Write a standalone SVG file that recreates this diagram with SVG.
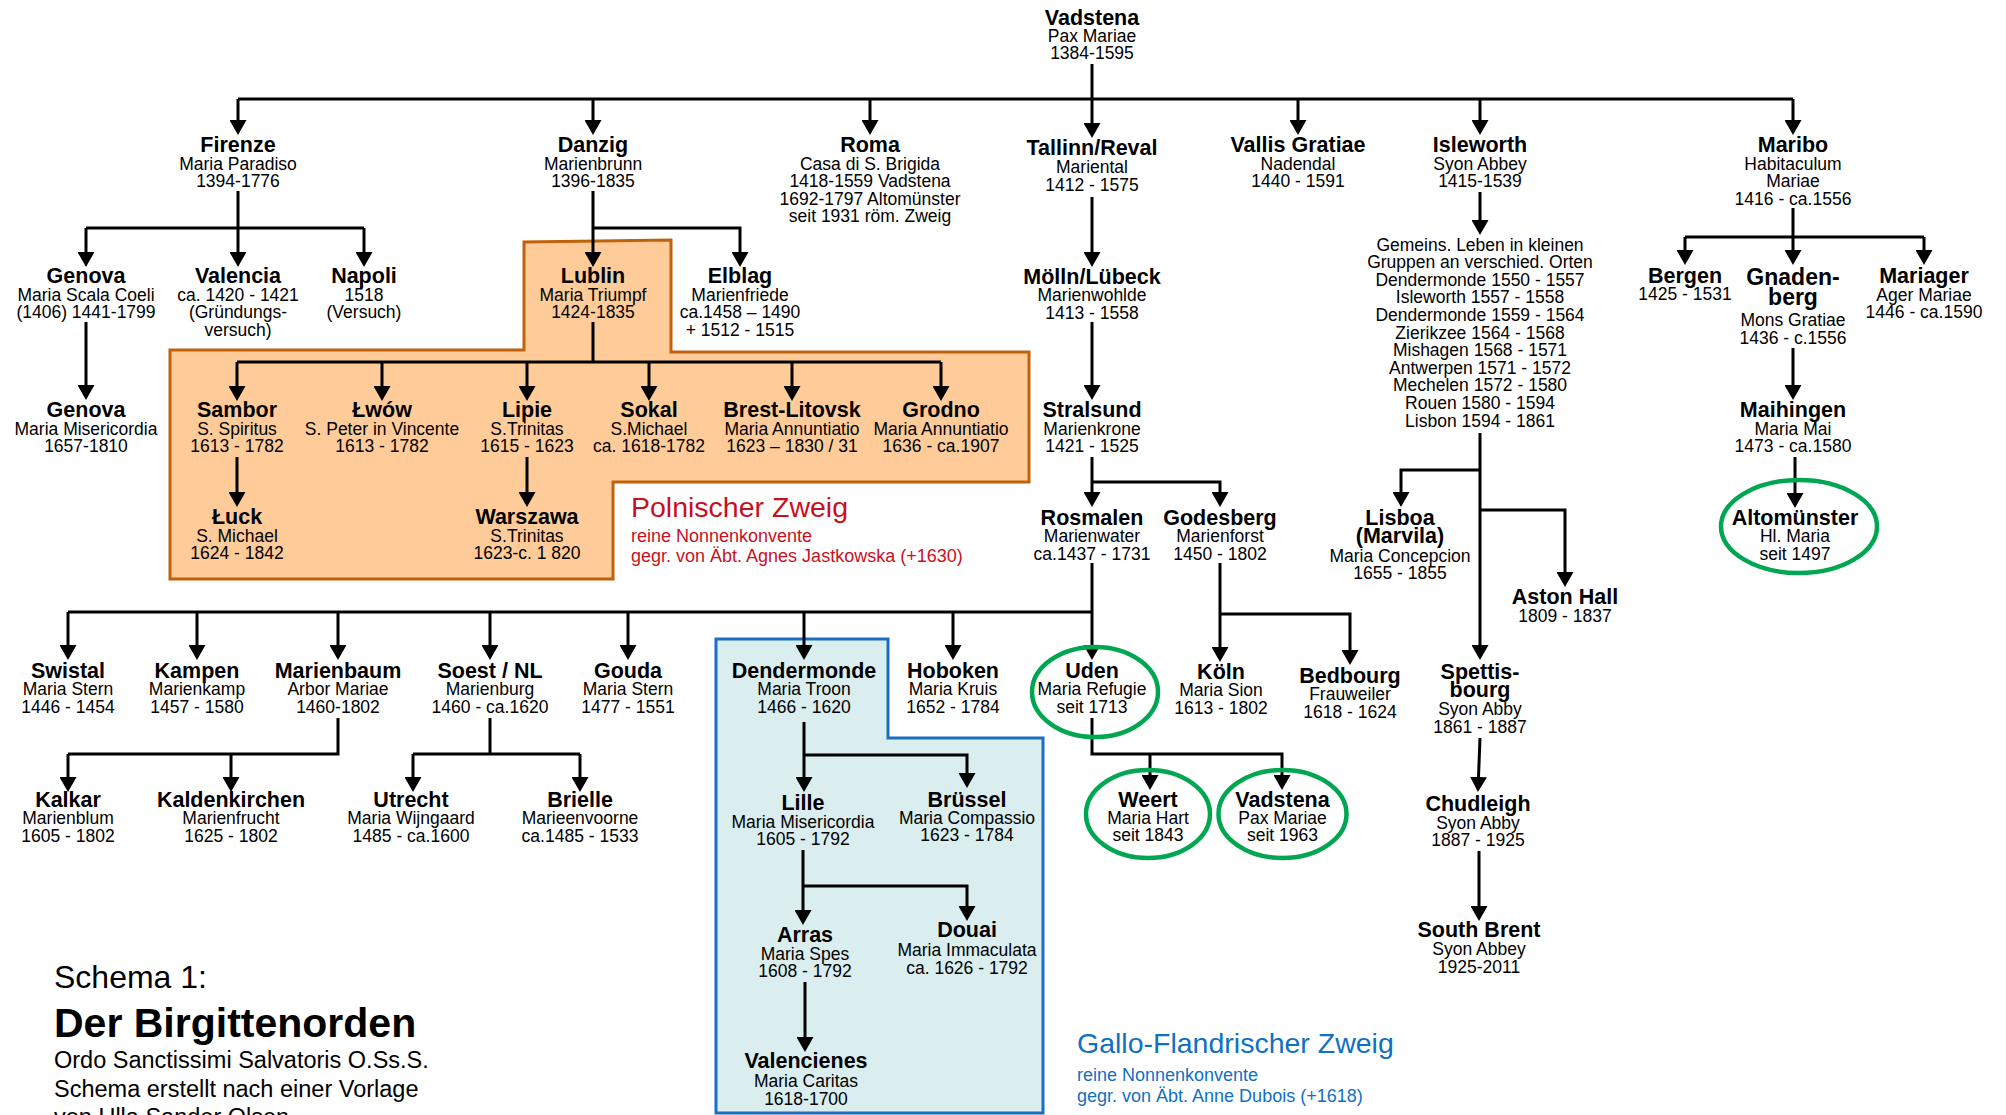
<svg xmlns="http://www.w3.org/2000/svg" width="2006" height="1115" viewBox="0 0 2006 1115">
<style>
text{font-family:"Liberation Sans",Arial,Helvetica,sans-serif;text-anchor:middle;fill:#000}
.t{font-size:21.5px;font-weight:bold}
.s{font-size:17.5px}
.c{fill:none;stroke:#000;stroke-width:3}
.a{marker-end:url(#ah)}
.ring{fill:none;stroke:#00A651;stroke-width:4.5}
.lab{text-anchor:start}
.red{fill:#C8101E}
.blue{fill:#1070C4}
.big{font-size:28.5px}
.mid{font-size:18px}
.cap{text-anchor:start;font-size:23.5px}
</style>
<defs>
<marker id="ah" viewBox="0 -8.5 15 17" refX="0" refY="0" markerWidth="15" markerHeight="17" markerUnits="userSpaceOnUse" orient="auto">
<path d="M0,-8.5 L15,0 L0,8.5 Z" fill="#000"/>
</marker>
</defs>
<rect width="2006" height="1115" fill="#fff"/>

<g id="branches">
<polygon id="polnisch-box" points="170,350 524,350 524,242 671,240 671,352 1029,352 1029,482 613,482 613,579 170,579" fill="#FFCC99" stroke="#C0620C" stroke-width="3"/>
<polygon id="gallo-box" points="716,639 888,639 888,738 1043,738 1043,1113 716,1113" fill="#DAEDEF" stroke="#1A6FC2" stroke-width="3"/>
</g>

<g id="connectors">
<path class="c" d="M238,99 H1793"/>
<path class="c a" d="M1092,64 V123"/>
<path class="c a" d="M238,99 V120"/>
<path class="c a" d="M593,99 V120"/>
<path class="c a" d="M870,99 V120"/>
<path class="c a" d="M1298,99 V120"/>
<path class="c a" d="M1480,99 V120"/>
<path class="c a" d="M1793,99 V120"/>

<path class="c" d="M86,228 H364"/>
<path class="c a" d="M238,191 V252"/>
<path class="c a" d="M86,228 V252"/>
<path class="c a" d="M364,228 V252"/>
<path class="c a" d="M86,322 V385"/>

<path class="c a" d="M593,191 V252"/>
<path class="c a" d="M593,228 H740 V252"/>

<path class="c" d="M593,322 V362 M237,362 H941"/>
<path class="c a" d="M237,362 V386"/>
<path class="c a" d="M382,362 V386"/>
<path class="c a" d="M527,362 V386"/>
<path class="c a" d="M649,362 V386"/>
<path class="c a" d="M792,362 V386"/>
<path class="c a" d="M941,362 V386"/>
<path class="c a" d="M237,457 V492"/>
<path class="c a" d="M527,457 V492"/>

<path class="c a" d="M1092,197 V252"/>
<path class="c a" d="M1092,322 V385"/>
<path class="c a" d="M1092,457 V492"/>
<path class="c a" d="M1092,482 H1220 V492"/>

<path class="c" d="M68,612 H1092"/>
<path class="c a" d="M1092,563 V645"/>
<path class="c a" d="M68,612 V645"/>
<path class="c a" d="M197,612 V645"/>
<path class="c a" d="M338,612 V645"/>
<path class="c a" d="M490,612 V645"/>
<path class="c a" d="M628,612 V645"/>
<path class="c a" d="M804,612 V645"/>
<path class="c a" d="M953,612 V645"/>

<path class="c a" d="M1220,563 V647"/>
<path class="c a" d="M1220,614 H1350 V650"/>

<path class="c" d="M338,718 V754 H68"/>
<path class="c a" d="M68,754 V777"/>
<path class="c a" d="M231,754 V777"/>
<path class="c" d="M490,718 V754 M413,754 H580"/>
<path class="c a" d="M413,754 V777"/>
<path class="c a" d="M580,754 V777"/>

<path class="c a" d="M804,722 V777"/>
<path class="c a" d="M804,755 H967 V773"/>
<path class="c a" d="M803,850 V910"/>
<path class="c a" d="M803,886 H967 V906"/>
<path class="c a" d="M805,982 V1037"/>

<path class="c a" d="M1092,718 V754 H1282 V775"/>
<path class="c a" d="M1150,754 V775"/>

<path class="c a" d="M1480,192 V220"/>
<path class="c a" d="M1480,433 V645"/>
<path class="c a" d="M1480,470 H1401 V492"/>
<path class="c a" d="M1480,510 H1565 V572"/>
<path class="c a" d="M1480,738 L1478.5,777"/>
<path class="c a" d="M1479,851 V906"/>

<path class="c" d="M1685,237 H1924"/>
<path class="c a" d="M1793,208 V250"/>
<path class="c a" d="M1685,237 V250"/>
<path class="c a" d="M1924,237 V250"/>
<path class="c a" d="M1793,348 V385"/>
<path class="c a" d="M1795,457 V493"/>
</g>

<g id="rings">
<ellipse class="ring" cx="1095" cy="692" rx="63" ry="45"/>
<ellipse class="ring" cx="1148" cy="814" rx="62" ry="44"/>
<ellipse class="ring" cx="1282.5" cy="814" rx="64" ry="44"/>
<ellipse class="ring" cx="1799" cy="526.5" rx="78" ry="46.5"/>
</g>

<g id="n-vadstena"><text class="t" x="1092" y="25">Vadstena</text><text class="s" x="1092" y="42">Pax Mariae</text><text class="s" x="1092" y="59">1384-1595</text></g>
<g id="n-firenze"><text class="t" x="238" y="152">Firenze</text><text class="s" x="238" y="170">Maria Paradiso</text><text class="s" x="238" y="187">1394-1776</text></g>
<g id="n-danzig"><text class="t" x="593" y="152">Danzig</text><text class="s" x="593" y="170">Marienbrunn</text><text class="s" x="593" y="187">1396-1835</text></g>
<g id="n-roma"><text class="t" x="870" y="152">Roma</text><text class="s" x="870" y="170">Casa di S. Brigida</text><text class="s" x="870" y="187">1418-1559 Vadstena</text><text class="s" x="870" y="205">1692-1797 Altomünster</text><text class="s" x="870" y="222">seit 1931 röm. Zweig</text></g>
<g id="n-tallinn"><text class="t" x="1092" y="155">Tallinn/Reval</text><text class="s" x="1092" y="173">Mariental</text><text class="s" x="1092" y="190.5">1412 - 1575</text></g>
<g id="n-vallis"><text class="t" x="1298" y="152">Vallis Gratiae</text><text class="s" x="1298" y="170">Nadendal</text><text class="s" x="1298" y="187">1440 - 1591</text></g>
<g id="n-isleworth"><text class="t" x="1480" y="152">Isleworth</text><text class="s" x="1480" y="170">Syon Abbey</text><text class="s" x="1480" y="187">1415-1539</text></g>
<g id="n-maribo"><text class="t" x="1793" y="152">Maribo</text><text class="s" x="1793" y="170">Habitaculum</text><text class="s" x="1793" y="187">Mariae</text><text class="s" x="1793" y="204.5">1416 - ca.1556</text></g>

<g id="n-genova1"><text class="t" x="86" y="283">Genova</text><text class="s" x="86" y="300.5">Maria Scala Coeli</text><text class="s" x="86" y="318">(1406) 1441-1799</text></g>
<g id="n-valencia"><text class="t" x="238" y="283">Valencia</text><text class="s" x="238" y="300.5">ca. 1420 - 1421</text><text class="s" x="238" y="318">(Gründungs-</text><text class="s" x="238" y="335.5">versuch)</text></g>
<g id="n-napoli"><text class="t" x="364" y="283">Napoli</text><text class="s" x="364" y="300.5">1518</text><text class="s" x="364" y="318">(Versuch)</text></g>
<g id="n-lublin"><text class="t" x="593" y="283">Lublin</text><text class="s" x="593" y="300.5">Maria Triumpf</text><text class="s" x="593" y="318">1424-1835</text></g>
<g id="n-elblag"><text class="t" x="740" y="283">Elblag</text><text class="s" x="740" y="300.5">Marienfriede</text><text class="s" x="740" y="318">ca.1458 – 1490</text><text class="s" x="740" y="335.5">+ 1512 - 1515</text></g>
<g id="n-moelln"><text class="t" x="1092" y="283.5">Mölln/Lübeck</text><text class="s" x="1092" y="301">Marienwohlde</text><text class="s" x="1092" y="318.5">1413 - 1558</text></g>
<g id="n-isleworth-groups">
<text class="s" x="1480" y="250.5">Gemeins. Leben in kleinen</text>
<text class="s" x="1480" y="268.1">Gruppen an verschied. Orten</text>
<text class="s" x="1480" y="285.7">Dendermonde 1550 - 1557</text>
<text class="s" x="1480" y="303.3">Isleworth 1557 - 1558</text>
<text class="s" x="1480" y="320.9">Dendermonde 1559 - 1564</text>
<text class="s" x="1480" y="338.5">Zierikzee 1564 - 1568</text>
<text class="s" x="1480" y="356.1">Mishagen 1568 - 1571</text>
<text class="s" x="1480" y="373.7">Antwerpen 1571 - 1572</text>
<text class="s" x="1480" y="391.3">Mechelen 1572 - 1580</text>
<text class="s" x="1480" y="408.9">Rouen 1580 - 1594</text>
<text class="s" x="1480" y="426.5">Lisbon 1594 - 1861</text>
</g>
<g id="n-bergen"><text class="t" x="1685" y="283">Bergen</text><text class="s" x="1685" y="300">1425 - 1531</text></g>
<g id="n-gnadenberg"><text class="t" x="1793" y="285" style="font-size:23px">Gnaden-</text><text class="t" x="1793" y="305" style="font-size:23px">berg</text><text class="s" x="1793" y="326">Mons Gratiae</text><text class="s" x="1793" y="343.5">1436 - c.1556</text></g>
<g id="n-mariager"><text class="t" x="1924" y="283">Mariager</text><text class="s" x="1924" y="300.5">Ager Mariae</text><text class="s" x="1924" y="318">1446 - ca.1590</text></g>

<g id="n-genova2"><text class="t" x="86" y="417">Genova</text><text class="s" x="86" y="434.5">Maria Misericordia</text><text class="s" x="86" y="452">1657-1810</text></g>
<g id="n-sambor"><text class="t" x="237" y="417">Sambor</text><text class="s" x="237" y="434.5">S. Spiritus</text><text class="s" x="237" y="452">1613 - 1782</text></g>
<g id="n-lwow"><text class="t" x="382" y="417">Łwów</text><text class="s" x="382" y="434.5">S. Peter in Vincente</text><text class="s" x="382" y="452">1613 - 1782</text></g>
<g id="n-lipie"><text class="t" x="527" y="417">Lipie</text><text class="s" x="527" y="434.5">S.Trinitas</text><text class="s" x="527" y="452">1615 - 1623</text></g>
<g id="n-sokal"><text class="t" x="649" y="417">Sokal</text><text class="s" x="649" y="434.5">S.Michael</text><text class="s" x="649" y="452">ca. 1618-1782</text></g>
<g id="n-brest"><text class="t" x="792" y="417">Brest-Litovsk</text><text class="s" x="792" y="434.5">Maria Annuntiatio</text><text class="s" x="792" y="452">1623 – 1830 / 31</text></g>
<g id="n-grodno"><text class="t" x="941" y="417">Grodno</text><text class="s" x="941" y="434.5">Maria Annuntiatio</text><text class="s" x="941" y="452">1636 - ca.1907</text></g>
<g id="n-stralsund"><text class="t" x="1092" y="417">Stralsund</text><text class="s" x="1092" y="434.5">Marienkrone</text><text class="s" x="1092" y="452">1421 - 1525</text></g>
<g id="n-maihingen"><text class="t" x="1793" y="417">Maihingen</text><text class="s" x="1793" y="434.5">Maria Mai</text><text class="s" x="1793" y="452">1473 - ca.1580</text></g>

<g id="n-luck"><text class="t" x="237" y="524">Łuck</text><text class="s" x="237" y="541.5">S. Michael</text><text class="s" x="237" y="559">1624 - 1842</text></g>
<g id="n-warszawa"><text class="t" x="527" y="524">Warszawa</text><text class="s" x="527" y="541.5">S.Trinitas</text><text class="s" x="527" y="559">1623-c. 1 820</text></g>
<g id="n-rosmalen"><text class="t" x="1092" y="524.5">Rosmalen</text><text class="s" x="1092" y="542">Marienwater</text><text class="s" x="1092" y="559.5">ca.1437 - 1731</text></g>
<g id="n-godesberg"><text class="t" x="1220" y="524.5">Godesberg</text><text class="s" x="1220" y="542">Marienforst</text><text class="s" x="1220" y="559.5">1450 - 1802</text></g>
<g id="n-lisboa"><text class="t" x="1400" y="525">Lisboa</text><text class="t" x="1400" y="543">(Marvila)</text><text class="s" x="1400" y="561.5">Maria Concepcion</text><text class="s" x="1400" y="579">1655 - 1855</text></g>
<g id="n-altomuenster"><text class="t" x="1795" y="525">Altomünster</text><text class="s" x="1795" y="542">Hl. Maria</text><text class="s" x="1795" y="559.5">seit 1497</text></g>
<g id="n-astonhall"><text class="t" x="1565" y="603.5">Aston Hall</text><text class="s" x="1565" y="621.5">1809 - 1837</text></g>

<g id="n-swistal"><text class="t" x="68" y="677.5">Swistal</text><text class="s" x="68" y="695">Maria Stern</text><text class="s" x="68" y="712.5">1446 - 1454</text></g>
<g id="n-kampen"><text class="t" x="197" y="677.5">Kampen</text><text class="s" x="197" y="695">Marienkamp</text><text class="s" x="197" y="712.5">1457 - 1580</text></g>
<g id="n-marienbaum"><text class="t" x="338" y="677.5">Marienbaum</text><text class="s" x="338" y="695">Arbor Mariae</text><text class="s" x="338" y="712.5">1460-1802</text></g>
<g id="n-soest"><text class="t" x="490" y="677.5">Soest / NL</text><text class="s" x="490" y="695">Marienburg</text><text class="s" x="490" y="712.5">1460 - ca.1620</text></g>
<g id="n-gouda"><text class="t" x="628" y="677.5">Gouda</text><text class="s" x="628" y="695">Maria Stern</text><text class="s" x="628" y="712.5">1477 - 1551</text></g>
<g id="n-dendermonde"><text class="t" x="804" y="677.5">Dendermonde</text><text class="s" x="804" y="695">Maria Troon</text><text class="s" x="804" y="712.5">1466 - 1620</text></g>
<g id="n-hoboken"><text class="t" x="953" y="677.5">Hoboken</text><text class="s" x="953" y="695">Maria Kruis</text><text class="s" x="953" y="712.5">1652 - 1784</text></g>
<g id="n-uden"><text class="t" x="1092" y="677.5">Uden</text><text class="s" x="1092" y="695">Maria Refugie</text><text class="s" x="1092" y="712.5">seit 1713</text></g>
<g id="n-koeln"><text class="t" x="1221" y="678.5">Köln</text><text class="s" x="1221" y="696">Maria Sion</text><text class="s" x="1221" y="713.5">1613 - 1802</text></g>
<g id="n-bedbourg"><text class="t" x="1350" y="682.5">Bedbourg</text><text class="s" x="1350" y="700">Frauweiler</text><text class="s" x="1350" y="717.5">1618 - 1624</text></g>
<g id="n-spettisbourg"><text class="t" x="1480" y="678.5">Spettis-</text><text class="t" x="1480" y="696.5">bourg</text><text class="s" x="1480" y="715">Syon Abby</text><text class="s" x="1480" y="732.5">1861 - 1887</text></g>

<g id="n-kalkar"><text class="t" x="68" y="806.7">Kalkar</text><text class="s" x="68" y="824.3">Marienblum</text><text class="s" x="68" y="841.7">1605 - 1802</text></g>
<g id="n-kaldenkirchen"><text class="t" x="231" y="806.7">Kaldenkirchen</text><text class="s" x="231" y="824.3">Marienfrucht</text><text class="s" x="231" y="841.7">1625 - 1802</text></g>
<g id="n-utrecht"><text class="t" x="411" y="806.7">Utrecht</text><text class="s" x="411" y="824.3">Maria Wijngaard</text><text class="s" x="411" y="841.7">1485 - ca.1600</text></g>
<g id="n-brielle"><text class="t" x="580" y="806.7">Brielle</text><text class="s" x="580" y="824.3">Marieenvoorne</text><text class="s" x="580" y="841.7">ca.1485 - 1533</text></g>
<g id="n-lille"><text class="t" x="803" y="810">Lille</text><text class="s" x="803" y="828">Maria Misericordia</text><text class="s" x="803" y="845">1605 - 1792</text></g>
<g id="n-bruessel"><text class="t" x="967" y="806.5">Brüssel</text><text class="s" x="967" y="823.5">Maria Compassio</text><text class="s" x="967" y="841">1623 - 1784</text></g>
<g id="n-weert"><text class="t" x="1148" y="806.7">Weert</text><text class="s" x="1148" y="823.5">Maria Hart</text><text class="s" x="1148" y="841">seit 1843</text></g>
<g id="n-vadstena2"><text class="t" x="1282.5" y="806.7">Vadstena</text><text class="s" x="1282.5" y="823.5">Pax Mariae</text><text class="s" x="1282.5" y="841">seit 1963</text></g>
<g id="n-chudleigh"><text class="t" x="1478" y="810.7">Chudleigh</text><text class="s" x="1478" y="828.5">Syon Abby</text><text class="s" x="1478" y="845.7">1887 - 1925</text></g>

<g id="n-arras"><text class="t" x="805" y="941.7">Arras</text><text class="s" x="805" y="960">Maria Spes</text><text class="s" x="805" y="977">1608 - 1792</text></g>
<g id="n-douai"><text class="t" x="967" y="937.3">Douai</text><text class="s" x="967" y="956">Maria Immaculata</text><text class="s" x="967" y="974">ca. 1626 - 1792</text></g>
<g id="n-southbrent"><text class="t" x="1479" y="936.7">South Brent</text><text class="s" x="1479" y="955">Syon Abbey</text><text class="s" x="1479" y="972.7">1925-2011</text></g>
<g id="n-valencienes"><text class="t" x="806" y="1068.3">Valencienes</text><text class="s" x="806" y="1086.7">Maria Caritas</text><text class="s" x="806" y="1105">1618-1700</text></g>

<g id="label-polnisch">
<text class="lab red big" x="631" y="517">Polnischer Zweig</text>
<text class="lab red mid" x="631" y="541.5">reine Nonnenkonvente</text>
<text class="lab red mid" x="631" y="562">gegr. von Äbt. Agnes Jastkowska (+1630)</text>
</g>
<g id="label-gallo">
<text class="lab blue big" x="1077" y="1053">Gallo-Flandrischer Zweig</text>
<text class="lab blue mid" x="1077" y="1080.5">reine Nonnenkonvente</text>
<text class="lab blue mid" x="1077" y="1102">gegr. von Äbt. Anne Dubois (+1618)</text>
</g>
<g id="title">
<text class="cap" x="54" y="988" style="font-size:32px">Schema 1:</text>
<text class="cap" x="54" y="1037" style="font-size:41px;font-weight:bold">Der Birgittenorden</text>
<text class="cap" x="54" y="1068">Ordo Sanctissimi Salvatoris O.Ss.S.</text>
<text class="cap" x="54" y="1097">Schema erstellt nach einer Vorlage</text>
<text class="cap" x="54" y="1125">von Ulla Sander Olsen</text>
</g>
</svg>
